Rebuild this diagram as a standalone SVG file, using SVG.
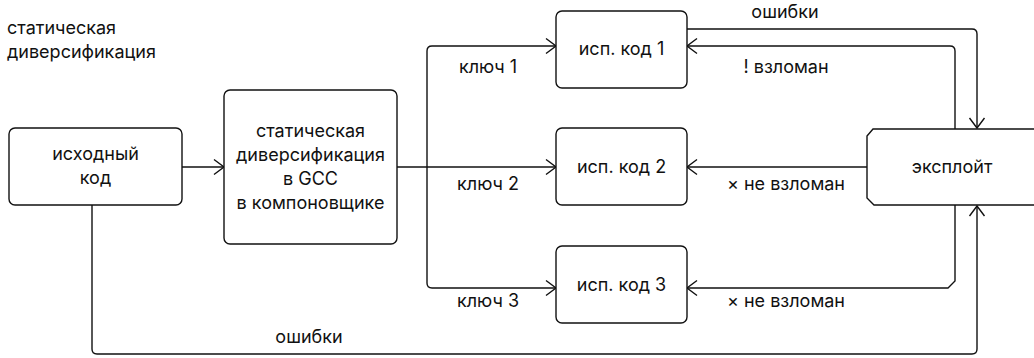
<svg xmlns="http://www.w3.org/2000/svg" width="1034" height="358" viewBox="0 0 1034 358">
<style>
.box{fill:#fff;stroke:#111;stroke-width:1.4}
.edge{fill:none;stroke:#111;stroke-width:1.4}
text{font-family:Inter,"Noto Sans","Liberation Sans",sans-serif;font-size:18px;fill:#111}
.c{text-anchor:middle}
</style>
<defs>
<marker id="arr" markerUnits="userSpaceOnUse" markerWidth="14" markerHeight="20" refX="11" refY="9" orient="auto">
<path d="M1,1.5 L11,9 L1,16.5" fill="none" stroke="#111" stroke-width="1.4"/>
</marker>
</defs>
<text x="7" y="34">статическая</text>
<text x="7" y="58">диверсификация</text>
<g id="edges">
<path class="edge" d="M182,167 H224" marker-end="url(#arr)"/>
<path class="edge" d="M397,167 H556" marker-end="url(#arr)"/>
<path class="edge" d="M427,167 V51 Q427,46 432,46 H556" marker-end="url(#arr)"/>
<path class="edge" d="M427,167 V283 Q427,288 432,288 H556" marker-end="url(#arr)"/>
<path class="edge" d="M687,29 H972 Q977,29 977,34 V128" marker-end="url(#arr)"/>
<path class="edge" d="M955,129 V51 Q955,46 950,46 H687" marker-end="url(#arr)"/>
<path class="edge" d="M867,167 H687" marker-end="url(#arr)"/>
<path class="edge" d="M955,205 V281 L948,288 H687" marker-end="url(#arr)"/>
<path class="edge" d="M92,205 V349 Q92,354 97,354 H972 Q977,354 977,349 V206" marker-end="url(#arr)"/>
<text class="c" x="488" y="73">ключ 1</text>
<text class="c" x="488" y="190">ключ 2</text>
<text class="c" x="488" y="307">ключ 3</text>
<text class="c" x="785" y="18">ошибки</text>
<text class="c" x="786" y="73">! взломан</text>
<text class="c" x="786" y="190">× не взломан</text>
<text class="c" x="786" y="307">× не взломан</text>
<text class="c" x="309" y="343">ошибки</text>
</g>
<g id="src">
<rect class="box" x="9" y="128" width="173" height="77" rx="6"/>
<text class="c" x="95.5" y="160">исходный</text>
<text class="c" x="95.5" y="184">код</text>
</g>
<g id="divers">
<rect class="box" x="224" y="90" width="173" height="154" rx="6"/>
<text class="c" x="310.5" y="137">статическая</text>
<text class="c" x="310.5" y="161">диверсификация</text>
<text class="c" x="310.5" y="185">в GCC</text>
<text class="c" x="310.5" y="209">в компоновщике</text>
</g>
<g id="exe1">
<rect class="box" x="556" y="11" width="131" height="77" rx="6"/>
<text class="c" x="621.5" y="55">исп. код 1</text>
</g>
<g id="exe2">
<rect class="box" x="556" y="128" width="131" height="77" rx="6"/>
<text class="c" x="621.5" y="173">исп. код 2</text>
</g>
<g id="exe3">
<rect class="box" x="556" y="246" width="131" height="77" rx="6"/>
<text class="c" x="621.5" y="291">исп. код 3</text>
</g>
<g id="exploit">
<path class="box" d="M873,129 H1040 V205 H874 L867,198 V136 Z"/>
<text class="c" x="952" y="173">эксплойт</text>
</g>
</svg>
